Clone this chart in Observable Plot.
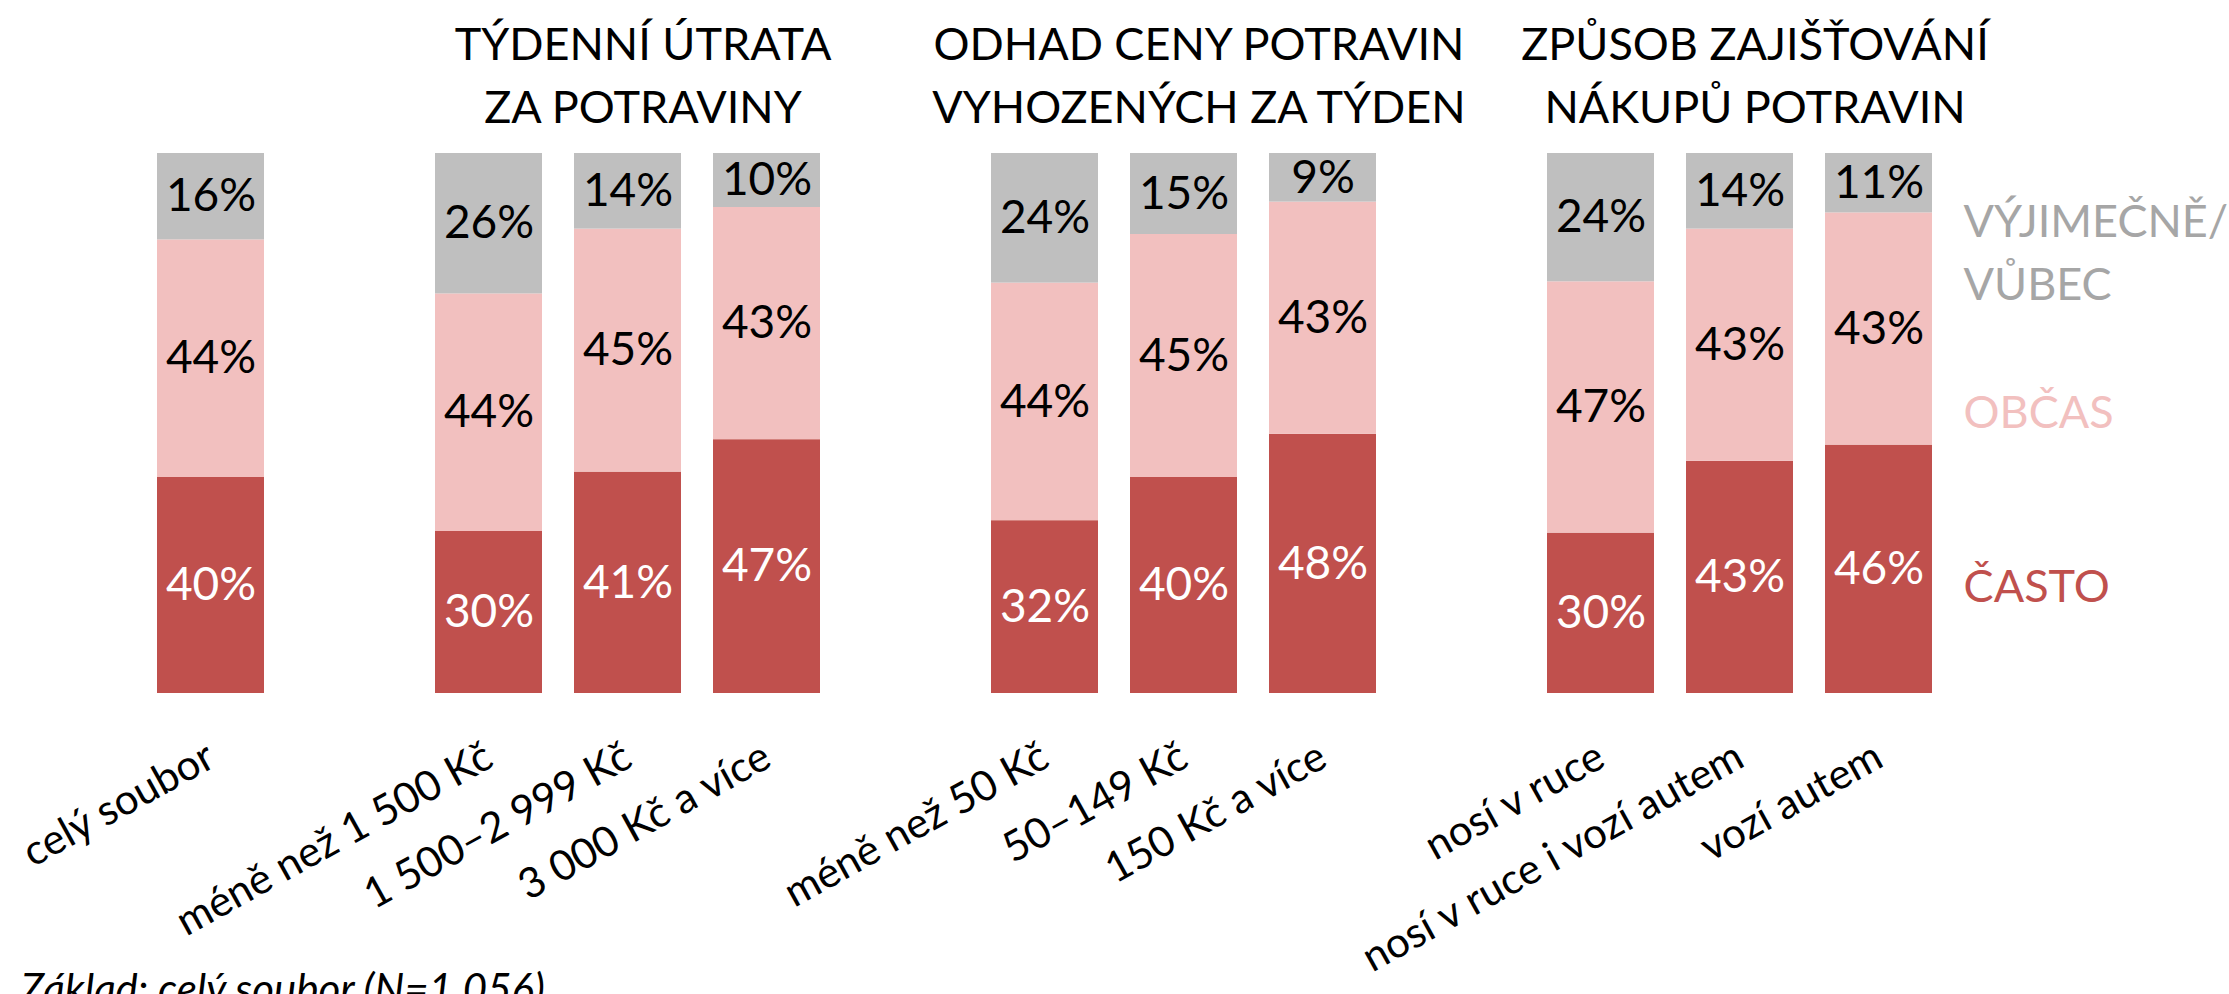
<!DOCTYPE html>
<html>
<head>
<meta charset="utf-8">
<script src="https://cdn.jsdelivr.net/npm/d3@7"></script>
<script src="https://cdn.jsdelivr.net/npm/@observablehq/plot@0.6"></script>
<style>
  html, body { margin: 0; padding: 0; background: #fff; overflow: hidden; }
</style>
</head>
<body>
<div id="chart"></div>
<script>
// ---- data ----
const categories = [
  "celý soubor",
  "méně než 1 500 Kč", "1 500–2 999 Kč", "3 000 Kč a více",
  "méně než 50 Kč", "50–149 Kč", "150 Kč a více",
  "nosí v ruce", "nosí v ruce i vozí autem", "vozí autem"
];
// x slots including empty gaps between groups
const slots = [
  "celý soubor", "gap1",
  "méně než 1 500 Kč", "1 500–2 999 Kč", "3 000 Kč a více", "gap2",
  "méně než 50 Kč", "50–149 Kč", "150 Kč a více", "gap3",
  "nosí v ruce", "nosí v ruce i vozí autem", "vozí autem"
];
const levels = ["ČASTO", "OBČAS", "VÝJIMEČNĚ/VŮBEC"];
const levelColors = ["#C0504D", "#F2C0BF", "#BFBFBF"];
const oftenValues     = [40, 30, 41, 47, 32, 40, 48, 30, 43, 46];
const sometimesValues = [44, 44, 45, 43, 44, 45, 43, 47, 43, 43];
const rarelyValues    = [16, 26, 14, 10, 24, 15,  9, 24, 14, 11];

const groupTitles = [
  "TÝDENNÍ ÚTRATA\nZA POTRAVINY",
  "ODHAD CENY POTRAVIN\nVYHOZENÝCH ZA TÝDEN",
  "ZPŮSOB ZAJIŠŤOVÁNÍ\nNÁKUPŮ POTRAVIN"
];
const groupTitleAnchors = ["1 500–2 999 Kč", "50–149 Kč", "nosí v ruce i vozí autem"];
const legendLabels = ["VÝJIMEČNĚ/\nVŮBEC", "OBČAS", "ČASTO"];
const legendColors = ["#A6A6A6", "#F2C0BF", "#C0504D"];
const caption = "Základ: celý soubor (N=1 056)";

// ---- table ----
const rows = categories.flatMap((c, i) => [
  {category: c, level: levels[0], value: oftenValues[i]},
  {category: c, level: levels[1], value: sometimesValues[i]},
  {category: c, level: levels[2], value: rarelyValues[i]}
]);

const stackOpts = (extra) => Plot.stackY({
  x: "category", y: "value", z: "level", order: levels, offset: "normalize", ...extra
});

const FONT = "Lato, 'Open Sans', sans-serif";

const chart = Plot.plot({
  width: 2229,
  height: 994,
  marginLeft: 139.2,
  marginRight: 278.9,
  marginTop: 153,
  marginBottom: 301,
  style: {fontFamily: FONT, background: "#fff", overflow: "visible"},
  x: {domain: slots, paddingInner: 0.227, paddingOuter: 0.1135, align: 0.5, axis: null},
  y: {domain: [0, 1], axis: null},
  color: {domain: levels, range: levelColors},
  marks: [
    Plot.barY(rows, stackOpts({fill: "level"})),
    Plot.text(rows, Plot.filter(d => d.level === levels[0], stackOpts({
      text: d => d.value + "%", fill: "white", fontSize: 46
    }))),
    Plot.text(rows, Plot.filter(d => d.level !== levels[0], stackOpts({
      text: d => d.value + "%", fill: "black", fontSize: 46
    }))),
    // rotated category labels
    Plot.text(categories, {
      x: d => d, text: d => d, frameAnchor: "bottom",
      rotate: -29, textAnchor: "end", lineAnchor: "middle",
      dy: 60, fontSize: 42, fill: "black"
    }),
    // group titles
    Plot.text(groupTitles, {
      x: (d, i) => groupTitleAnchors[i], text: d => d, frameAnchor: "top",
      lineAnchor: "top", dy: -138, dx: 15, fontSize: 45, lineHeight: 1.4, fill: "black"
    }),
    // legend (text labels to the right)
    Plot.text([legendLabels[0]], {
      text: d => d, frameAnchor: "top-right", textAnchor: "start", lineAnchor: "top",
      dx: 13, dy: 39, fontSize: 45, lineHeight: 1.4, fill: legendColors[0]
    }),
    Plot.text([legendLabels[1]], {
      text: d => d, frameAnchor: "top-right", textAnchor: "start", lineAnchor: "top",
      dx: 13, dy: 243, fontSize: 45, fill: legendColors[1]
    }),
    Plot.text([legendLabels[2]], {
      text: d => d, frameAnchor: "top-right", textAnchor: "start", lineAnchor: "top",
      dx: 13, dy: 417, fontSize: 45, fill: legendColors[2]
    }),
    // caption
    Plot.text([caption], {
      text: d => d, frameAnchor: "bottom-left", textAnchor: "start", lineAnchor: "middle",
      dx: -119, dy: 297, fontSize: 42, fontStyle: "italic", fill: "black"
    })
  ]
});
document.getElementById("chart").appendChild(chart);
</script>
</body>
</html>
